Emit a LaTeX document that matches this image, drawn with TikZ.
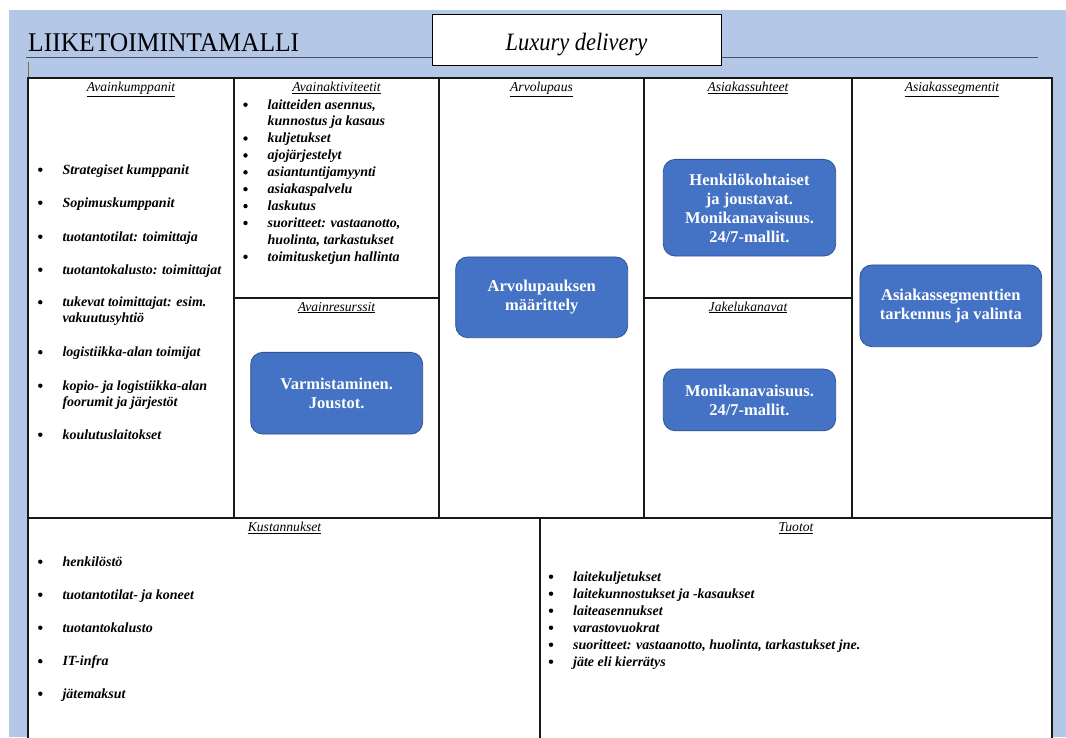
\documentclass[tikz,border=0pt]{standalone}
\usepackage{fontspec}
\setmainfont{Liberation Serif}
\definecolor{pagebg}{HTML}{B4C7E7}
\definecolor{boxblue}{HTML}{4472C4}
\definecolor{boxedge}{HTML}{2F528F}
\definecolor{rulegray}{HTML}{44546A}
\definecolor{tickbrown}{HTML}{7F6A4A}

% bullet item: dot plus text, first line
\newcommand\bitem[4]{%
  \node[dot] (#1-b) at ({#2-22},{#3-4.3}) {};
  \node[itemtext] (#1) at (#2,#3) {#4};}
% continuation line of an item
\newcommand\citem[4]{%
  \node[itemtext] (#1) at (#2,#3) {#4};}

\begin{document}
\begin{tikzpicture}[x=1pt,y=-1pt,
  titletext/.style={anchor=base west,inner sep=0,font=\fontsize{27}{30}\selectfont,
    xscale=0.945,transform shape},
  namebox/.style={draw=black,line width=0.9pt,fill=white,minimum width=289pt,
    minimum height=51pt,inner sep=0},
  nametext/.style={anchor=base,inner sep=0,font=\itshape\fontsize{25}{28}\selectfont,
    xscale=0.9,transform shape},
  grid/.style={line width=1.8pt,draw=black!90},
  hdr/.style={anchor=base,inner sep=0,font=\itshape\fontsize{13.6}{15}\selectfont},
  itemtext/.style={anchor=base west,inner sep=0,font=\bfseries\itshape\fontsize{14}{17}\selectfont},
  dot/.style={circle,fill=black,inner sep=0,minimum size=4.4pt},
  bluebox/.style={draw=boxedge,line width=0.8pt,fill=boxblue,rounded corners=12pt,
    text=white,align=center,inner sep=0,
    font=\bfseries\fontsize{16.5}{19}\selectfont}
]
\useasboundingbox (0,0) rectangle (1066,737);
\clip (0,0) rectangle (1066,737);

% page background
\fill[pagebg] (9,10) rectangle (1066,737);

% heading
\node[titletext] (title) at (28,51.7) {LIIKETOIMINTAMALLI};
\draw[rulegray,line width=1.3pt] (26,57.7) -- (1038,57.7);
\draw[tickbrown,line width=0.7pt] (28.3,61.7) -- (28.3,78);
\node[namebox] (name) at (576.5,39.5) {};
\node[nametext] (nametxt) at (576.5,50.5) {Luxury delivery};

% canvas grid
\draw[grid,fill=white] (28,78) rectangle (1052,760);
\draw[grid] (28,518) -- (1052,518);
\draw[grid] (234,78) -- (234,518);
\draw[grid] (439,78) -- (439,518);
\draw[grid] (644,78) -- (644,518);
\draw[grid] (852,78) -- (852,518);
\draw[grid] (234,298) -- (439,298);
\draw[grid] (644,298) -- (852,298);
\draw[grid] (540,518) -- (540,760);

% section headings
\node[hdr] (h-kp) at (131,91.7) {\underline{Avainkumppanit}};
\node[hdr] (h-ka) at (336.5,91.7) {\underline{Avainaktiviteetit}};
\node[hdr] (h-ar) at (541.5,91.7) {\underline{Arvolupaus}};
\node[hdr] (h-as) at (748,91.7) {\underline{Asiakassuhteet}};
\node[hdr] (h-sg) at (952,91.7) {\underline{Asiakassegmentit}};
\node[hdr] (h-kr) at (336.5,311) {\underline{Avainresurssit}};
\node[hdr] (h-jk) at (748,311) {\underline{Jakelukanavat}};
\node[hdr] (h-ku) at (284.5,531.7) {\underline{Kustannukset}};
\node[hdr] (h-tu) at (796,531.7) {\underline{Tuotot}};

% Avainkumppanit
\bitem{kp1}{62.3}{174}{Strategiset kumppanit}
\bitem{kp2}{62.3}{207}{Sopimuskumppanit}
\bitem{kp3}{62.3}{241}{tuotantotilat: toimittaja}
\bitem{kp4}{62.3}{274}{tuotantokalusto: toimittajat}
\bitem{kp5}{62.3}{306.5}{tukevat toimittajat: esim.}
\citem{kp5c}{62.3}{322.5}{vakuutusyhtiö}
\bitem{kp6}{62.3}{356.5}{logistiikka-alan toimijat}
\bitem{kp7}{62.3}{390}{kopio- ja logistiikka-alan}
\citem{kp7c}{62.3}{406}{foorumit ja järjestöt}
\bitem{kp8}{62.3}{439}{koulutuslaitokset}

% Avainaktiviteetit
\bitem{ka1}{267.5}{109}{laitteiden asennus,}
\citem{ka1c}{267.5}{125.9}{kunnostus ja kasaus}
\bitem{ka2}{267.5}{142.8}{kuljetukset}
\bitem{ka3}{267.5}{159.7}{ajojärjestelyt}
\bitem{ka4}{267.5}{176.6}{asiantuntijamyynti}
\bitem{ka5}{267.5}{193.5}{asiakaspalvelu}
\bitem{ka6}{267.5}{210.4}{laskutus}
\bitem{ka7}{267.5}{227.3}{suoritteet: vastaanotto,}
\citem{ka7c}{267.5}{244.2}{huolinta, tarkastukset}
\bitem{ka8}{267.5}{261.1}{toimitusketjun hallinta}

% Kustannukset
\bitem{ku1}{62.3}{566}{henkilöstö}
\bitem{ku2}{62.3}{599}{tuotantotilat- ja koneet}
\bitem{ku3}{62.3}{632}{tuotantokalusto}
\bitem{ku4}{62.3}{665.5}{IT-infra}
\bitem{ku5}{62.3}{698}{jätemaksut}

% Tuotot
\bitem{tu1}{573}{581}{laitekuljetukset}
\bitem{tu2}{573}{598}{laitekunnostukset ja -kasaukset}
\bitem{tu3}{573}{615}{laiteasennukset}
\bitem{tu4}{573}{632}{varastovuokrat}
\bitem{tu5}{573}{649}{suoritteet: vastaanotto, huolinta, tarkastukset jne.}
\bitem{tu6}{573}{666}{jäte eli kierrätys}

% content boxes
\node[bluebox,minimum width=172pt,minimum height=80.7pt] (vp) at (541.7,297.3)
  {Arvolupauksen\\määrittely};
\node[bluebox,minimum width=172.4pt,minimum height=96.7pt] (cr) at (749.5,207.7)
  {\strut Henkilökohtaiset\\ja joustavat.\\Monikanavaisuus.\\24/7-mallit.};
\node[bluebox,minimum width=172pt,minimum height=81.7pt] (kr) at (336.7,393.2)
  {Varmistaminen.\\Joustot.};
\node[bluebox,minimum width=172.4pt,minimum height=61.7pt] (ch) at (749.5,399.9)
  {Monikanavaisuus.\\24/7-mallit.};
\node[bluebox,minimum width=181.7pt,minimum height=81.7pt] (cs) at (950.8,305.8)
  {Asiakassegmenttien\\tarkennus ja valinta};
\end{tikzpicture}
\end{document}
